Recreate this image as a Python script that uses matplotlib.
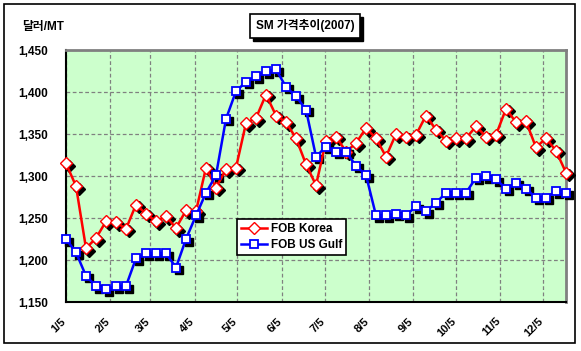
import matplotlib
matplotlib.use('Agg')
import matplotlib.pyplot as plt
import matplotlib.transforms as mtransforms
from matplotlib.patches import Rectangle
import pandas as pd

plt.rcParams['font.family'] = ['Liberation Sans', 'Noto Sans CJK KR']

# SM 가격 (달러/MT), 2007년 주간 데이터 (1/5 ~ 12/21)
dates = pd.date_range('2007-01-05', periods=51, freq='7D')

fob_korea = [1315, 1288, 1214, 1226, 1246, 1245, 1237, 1266, 1255, 1246,
             1252, 1238, 1259, 1258, 1310, 1286, 1308, 1310, 1363, 1369,
             1397, 1372, 1364, 1345, 1314, 1289, 1342, 1347, 1329, 1339,
             1357, 1345, 1323, 1350, 1347, 1349, 1372, 1355, 1342, 1345,
             1345, 1359, 1347, 1349, 1380, 1364, 1365, 1334, 1345, 1330,
             1304]

fob_usgulf = [1225, 1209, 1181, 1169, 1165, 1169, 1169, 1202, 1208, 1208,
              1208, 1191, 1225, 1253, 1280, 1301, 1368, 1401, 1412, 1419,
              1425, 1427, 1406, 1395, 1379, 1323, 1335, 1329, 1329, 1312,
              1301, 1253, 1253, 1255, 1253, 1264, 1258, 1268, 1280, 1280,
              1280, 1298, 1300, 1296, 1285, 1292, 1285, 1274, 1274, 1282,
              1280]

tick_dates = pd.date_range('2007-01-01', periods=12, freq='MS') + pd.Timedelta(days=4)
tick_labels = ['%d/5' % m for m in range(1, 13)]

fig = plt.figure(figsize=(5.81, 3.51), dpi=100)
fig.patch.set_facecolor('white')
ax = fig.add_axes([0.1136, 0.1396, 0.8606, 0.7179])
ax.set_facecolor('#CCFFCC')

# 마커 그림자
shadow = mtransforms.offset_copy(ax.transData, fig=fig, x=2.5, y=-2.5, units='dots')
ax.plot(dates, fob_korea, linestyle='none', marker='D', markersize=6.3,
        color='black', transform=shadow, zorder=3, clip_on=False)
ax.plot(dates, fob_usgulf, linestyle='none', marker='s', markersize=6.3,
        color='black', transform=shadow, zorder=3, clip_on=False)

ax.plot(dates, fob_korea, color='#FF0000', linewidth=1.8, marker='D',
        markersize=6.3, markerfacecolor='white', markeredgecolor='#FF0000',
        markeredgewidth=1.0, label='FOB Korea', zorder=4, clip_on=False)
ax.plot(dates, fob_usgulf, color='#0000FF', linewidth=1.8, marker='s',
        markersize=6.3, markerfacecolor='white', markeredgecolor='#0000FF',
        markeredgewidth=1.3, label='FOB US Gulf', zorder=4, clip_on=False)

ax.set_xlim(dates[0], dates[-1])
ax.set_ylim(1150, 1450)
ax.set_yticks(range(1150, 1451, 50))
ax.set_yticklabels(['{:,}'.format(v) for v in range(1150, 1451, 50)],
                   fontsize=8.5, fontweight='bold')
ax.set_xticks(tick_dates)
ax.set_xticklabels(tick_labels, fontsize=8, fontweight='bold', rotation=45,
                   ha='right', va='top', rotation_mode='anchor')
ax.tick_params(axis='both', length=0)
ax.tick_params(axis='y', pad=13)
ax.tick_params(axis='x', pad=10)
shift = mtransforms.ScaledTranslation(-5 / 100, 0, fig.dpi_scale_trans)
for lbl in ax.get_xticklabels():
    lbl.set_transform(lbl.get_transform() + shift)

ax.grid(True, color='#808080', linestyle=(0, (3, 2)), linewidth=0.9)
ax.set_axisbelow(True)

for side in ['left', 'bottom']:
    ax.spines[side].set_color('black')
    ax.spines[side].set_linewidth(1.5)
for side in ['top', 'right']:
    ax.spines[side].set_color('#808080')
    ax.spines[side].set_linewidth(2)

leg = ax.legend(loc='upper left', bbox_to_anchor=(0.342, 0.329),
                borderaxespad=0, fancybox=False, framealpha=1,
                edgecolor='black', handlelength=2.2, handletextpad=0.3,
                borderpad=0.35, labelspacing=0.35,
                prop={'weight': 'bold', 'size': 8.5})
leg.get_frame().set_linewidth(1.2)
leg.set_zorder(6)

# 제목 (그림자 박스)
t = fig.text(305 / 581, 1 - 26 / 351, 'SM 가격추이(2007)', ha='center',
             va='center', fontsize=8.5, fontweight='bold', color='black',
             zorder=5,
             bbox=dict(boxstyle='square,pad=0.45', facecolor='white',
                       edgecolor='black', linewidth=1.2))
fig.canvas.draw()
bb = t.get_bbox_patch().get_window_extent().transformed(fig.transFigure.inverted())
fig.patches.append(Rectangle((bb.x0 + 3 / 581, bb.y0 - 3 / 351), bb.width, bb.height,
                             transform=fig.transFigure, facecolor='black',
                             edgecolor='black', zorder=4))

fig.text(22 / 581, 1 - 27 / 351, '달러/MT', ha='left', va='center',
         fontsize=8.5, fontweight='bold')

fig.patches.append(Rectangle((4 / 581, 1 - 343 / 351), 571 / 581, 339 / 351,
                             transform=fig.transFigure, fill=False,
                             edgecolor='black', linewidth=1.2))

fig.savefig('out.png', dpi=100)
plt.close()
